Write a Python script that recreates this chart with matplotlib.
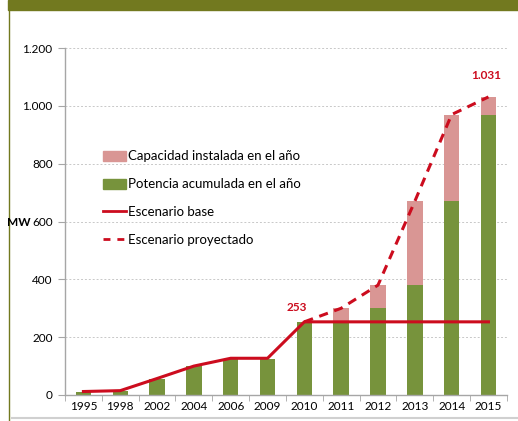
import numpy as np
import matplotlib
matplotlib.use('Agg')
import matplotlib.pyplot as plt
from matplotlib.patches import Rectangle
from matplotlib.lines import Line2D

#---------------- datos
anios = ['1995', '1998', '2002', '2004', '2006', '2009',
         '2010', '2011', '2012', '2013', '2014', '2015']
potencia_acumulada = [12, 15, 55, 100, 125, 125, 253, 253, 300, 380, 670, 970]
capacidad_instalada = [0, 0, 0, 0, 0, 0, 0, 47, 80, 290, 300, 61]
escenario_base = [12, 15, 57, 100, 127, 127, 253, 253, 253, 253, 253, 253]
escenario_proyectado = [253, 300, 380, 670, 970, 1031]
anio_inicio_proy = 6
yticks = [0, 200, 400, 600, 800, 1000, 1200]
ytick_labels = ['0', '200', '400', '600', '800', '1.000', '1.200']

verde = '#77933C'
rosa = '#D99694'
rojo = '#CC0C1E'
oliva = '#72791F'

plt.rcParams['font.family'] = ['Lato', 'DejaVu Sans']

fig = plt.figure(figsize=(5.18, 4.21), dpi=100)
ax = fig.add_axes([0.1255, 0.0618, 0.853, 0.824])

x = np.arange(len(anios))
ax.bar(x, potencia_acumulada, width=0.42, color=verde, zorder=2)
ax.bar(x, capacidad_instalada, width=0.42, bottom=potencia_acumulada,
       color=rosa, zorder=2)
ax.plot(x, escenario_base, color=rojo, lw=2.2, zorder=3)
xp = x[anio_inicio_proy:]
ax.plot(xp, escenario_proyectado, color=rojo, lw=2.2, ls=(0, (3, 2.2)), zorder=3)

ax.text(x[anio_inicio_proy] - 0.2, escenario_base[anio_inicio_proy] + 30, '253',
        color=rojo, fontsize=8.5, fontweight='bold', ha='center', va='bottom')
ax.text(x[-1] - 0.05, escenario_proyectado[-1] + 55, '1.031',
        color=rojo, fontsize=8.5, fontweight='bold', ha='center', va='bottom')

ax.set_xlim(-0.5, len(anios) - 0.5)
ax.set_ylim(0, 1200)
ax.set_xticks(x)
ax.set_xticklabels(anios, fontsize=8.5)
ax.set_xticks(np.arange(-0.5, len(anios), 1), minor=True)
ax.tick_params(axis='x', which='major', length=0, pad=4)
ax.tick_params(axis='x', which='minor', length=4, color='#A6A6A6')
ax.set_yticks(yticks)
ax.set_yticklabels(ytick_labels, fontsize=8.5)
ax.tick_params(axis='y', length=5, color='#A6A6A6', pad=4)
ax.grid(axis='y', color='#C8C8C8', ls=(0, (2, 2)), lw=0.7, zorder=0)
for s in ['top', 'right']:
    ax.spines[s].set_visible(False)
for s in ['left', 'bottom']:
    ax.spines[s].set_color('#A6A6A6')
    ax.spines[s].set_linewidth(1.0)

# "MW" pegado a la etiqueta 600
fig.canvas.draw()
lab600 = ax.get_yticklabels()[yticks.index(600)]
bb = lab600.get_window_extent(fig.canvas.get_renderer())
fig.text((bb.x0 - 1) / fig.bbox.width, (bb.y0 + bb.y1) / 2 / fig.bbox.height, 'MW',
         fontsize=8.5, fontweight='bold', ha='right', va='center')

handles = [Rectangle((0, 0), 1, 1, color=rosa),
           Rectangle((0, 0), 1, 1, color=verde),
           Line2D([], [], color=rojo, lw=2),
           Line2D([], [], color=rojo, lw=2, ls=(0, (2.5, 2.5)))]
labels = ['Capacidad instalada en el año', 'Potencia acumulada en el año',
          'Escenario base', 'Escenario proyectado']
leg = ax.legend(handles, labels, loc='upper left', bbox_to_anchor=(0.075, 0.72),
                borderaxespad=0, fontsize=9.5, frameon=False, handlelength=1.7,
                handleheight=0.8, handletextpad=0.15, labelspacing=1.2)

# marco del recuadro
fig.patches.append(Rectangle((8 / 518, 411 / 421), 510 / 518, 10 / 421,
                             transform=fig.transFigure, color=oliva))
fig.lines.append(Line2D([8.5 / 518, 8.5 / 518], [0, 411 / 421],
                        transform=fig.transFigure, color=oliva, lw=1))
fig.lines.append(Line2D([12 / 518, 1], [3 / 421, 3 / 421],
                        transform=fig.transFigure, color='#D0D0D0', lw=1.5))

fig.savefig('out.png', dpi=100)
